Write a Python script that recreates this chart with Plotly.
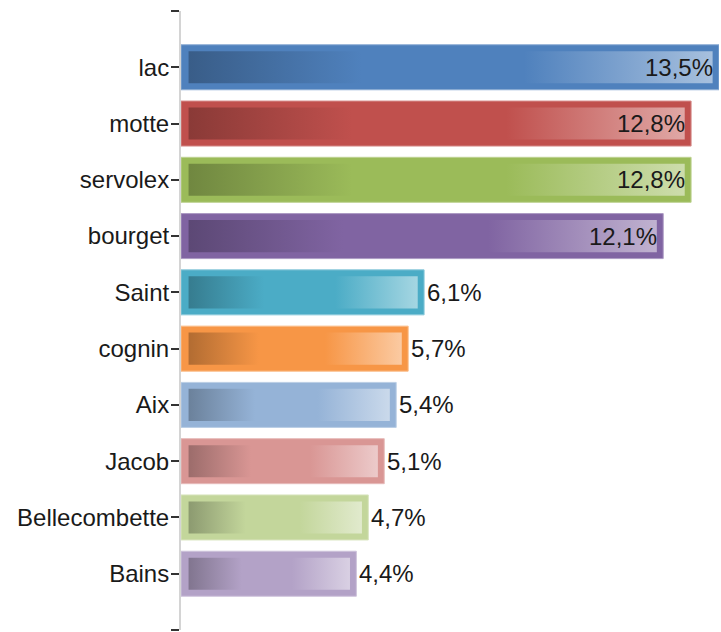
import plotly.graph_objects as go

categories = ["lac", "motte", "servolex", "bourget", "Saint", "cognin", "Aix", "Jacob", "Bellecombette", "Bains"]
values = [13.5, 12.8, 12.8, 12.1, 6.1, 5.7, 5.4, 5.1, 4.7, 4.4]
labels = ["13,5%", "12,8%", "12,8%", "12,1%", "6,1%", "5,7%", "5,4%", "5,1%", "4,7%", "4,4%"]
label_inside = [True, True, True, True, False, False, False, False, False, False]
base_colors = ["#4F81BD", "#C0504D", "#9BBB59", "#8064A2", "#4BACC6",
               "#F79646", "#95B3D7", "#D99694", "#C3D69B", "#B3A2C7"]

FONT = "Liberation Sans, Arial, sans-serif"
TEXT_COLOR = "#1a1a1a"
FONT_SIZE = 24


def hex_to_rgb(h):
    h = h.lstrip("#")
    return tuple(int(h[i:i + 2], 16) for i in (0, 2, 4))


def shade(h, f):
    r, g, b = hex_to_rgb(h)
    return "rgb(%d,%d,%d)" % (round(r * f), round(g * f), round(b * f))


def tint(h, f):
    r, g, b = hex_to_rgb(h)
    return "rgb(%d,%d,%d)" % (round(r + (255 - r) * f), round(g + (255 - g) * f), round(b + (255 - b) * f))


ypos = list(range(len(categories)))

fig = go.Figure()

# outer bars (base colour frame)
fig.add_trace(go.Bar(
    x=values, y=ypos, orientation="h", width=0.8,
    marker=dict(color=base_colors, line=dict(color=[tint(c, 0.35) for c in base_colors], width=1)),
    hoverinfo="skip", showlegend=False,
))

# inner gradient panels
inset_left = 0.19
inset_right = 0.16
half_h = 0.285
for i, (v, c) in enumerate(zip(values, base_colors)):
    x0, x1 = inset_left, v - inset_right
    fig.add_trace(go.Scatter(
        x=[x0, x1, x1, x0, x0],
        y=[i - half_h, i - half_h, i + half_h, i + half_h, i - half_h],
        mode="none", fill="toself",
        fillgradient=dict(
            type="horizontal",
            colorscale=[[0, shade(c, 0.72)], [0.33, c], [0.64, c], [1, tint(c, 0.5)]],
        ),
        hoverinfo="skip", showlegend=False,
    ))

# value labels
for i, (v, t, inside) in enumerate(zip(values, labels, label_inside)):
    fig.add_annotation(
        x=v, y=i, text=t, showarrow=False,
        xanchor="right" if inside else "left",
        xshift=-4 if inside else 1,
        font=dict(family=FONT, size=FONT_SIZE, color=TEXT_COLOR),
    )

tickvals = [-1] + ypos + [10]
ticktext = [""] + categories + [""]

fig.update_layout(
    width=721, height=632,
    margin=dict(l=181, r=2, t=11, b=2, autoexpand=False),
    paper_bgcolor="white", plot_bgcolor="white",
    font=dict(family=FONT, size=FONT_SIZE, color=TEXT_COLOR),
    xaxis=dict(range=[0, 13.5], visible=False, showgrid=False, zeroline=False, automargin=False),
    yaxis=dict(
        range=[10, -1], tickmode="array", tickvals=tickvals, ticktext=ticktext,
        showgrid=False, zeroline=False, automargin=False,
        showline=True, linecolor="#d4d4d4", linewidth=2,
        ticks="outside", ticklen=8, tickwidth=2, tickcolor="#333333",
        ticklabelstandoff=-3,
        layer="below traces",
    ),
    bargap=0.2,
)

fig.write_html(
    "out.html",
    config={"displayModeBar": False},
    post_script="document.body.style.margin='0';document.body.style.overflow='hidden';",
)
